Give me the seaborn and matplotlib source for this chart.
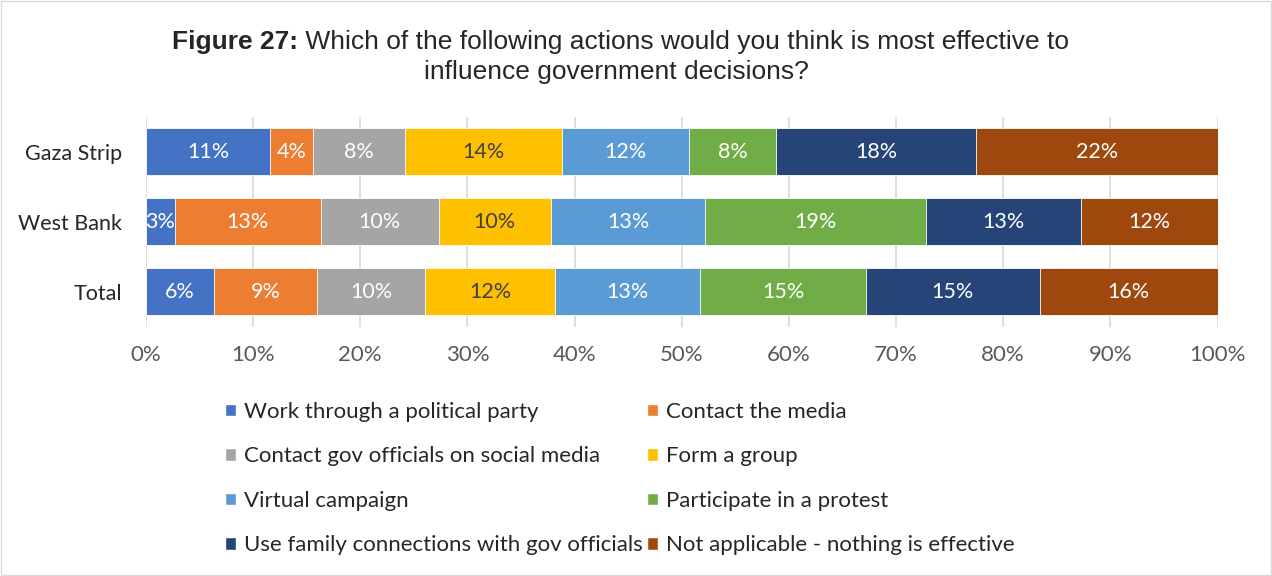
import pandas as pd
import matplotlib.pyplot as plt
import seaborn as sns
from matplotlib.patches import Patch, Rectangle

# share of respondents per action, labels as printed
regions = ["Gaza Strip", "West Bank", "Total"]
actions = ["Work through a political party", "Contact the media",
           "Contact gov officials on social media", "Form a group",
           "Virtual campaign", "Participate in a protest",
           "Use family connections with gov officials",
           "Not applicable - nothing is effective"]
gaza = [11.6, 4.0, 8.6, 14.6, 11.9, 8.1, 18.7, 22.5]
west_bank = [2.7, 13.6, 11.0, 10.5, 14.4, 20.6, 14.5, 12.7]
total = [6.3, 9.7, 10.0, 12.2, 13.5, 15.5, 16.2, 16.6]
gaza_labels = ["11%", "4%", "8%", "14%", "12%", "8%", "18%", "22%"]
west_bank_labels = ["3%", "13%", "10%", "10%", "13%", "19%", "13%", "12%"]
total_labels = ["6%", "9%", "10%", "12%", "13%", "15%", "15%", "16%"]
xticks = [0, 10, 20, 30, 40, 50, 60, 70, 80, 90, 100]

colors = ["#4472C4", "#ED7D31", "#A5A5A5", "#FFC000",
          "#5B9BD5", "#70AD47", "#264478", "#9E480E"]

rows = []
for reg, vals, labs in zip(regions, [gaza, west_bank, total],
                           [gaza_labels, west_bank_labels, total_labels]):
    cum = 0
    for act, v, lab in zip(actions, vals, labs):
        cum += v
        rows.append({"region": reg, "action": act, "value": v,
                     "cum": cum, "label": lab})
df = pd.DataFrame(rows)

sns.set_theme(style="white")
plt.rcParams['font.family'] = ['Lato', 'DejaVu Sans']

fig = plt.figure(figsize=(12.72, 5.76), dpi=100)
ax = fig.add_axes([146 / 1272, 1 - 326.5 / 576, (1217.5 - 146) / 1272, 210 / 576])

# stack by overdrawing cumulative totals, longest first
for act, col in reversed(list(zip(actions, colors))):
    sub = df[df["action"] == act]
    sns.barplot(data=sub, x="cum", y="region", order=regions, color=col,
                orient="h", width=0.67, ax=ax, edgecolor="white",
                linewidth=0.6, saturation=1)

for _, r in df.iterrows():
    tcol = "#404040" if r["action"] == "Form a group" else "white"
    ax.text(r["cum"] - r["value"] / 2, regions.index(r["region"]), r["label"],
            ha="center", va="center", color=tcol, fontsize=15.5)

ax.set_xlim(0, 100)
ax.set_ylim(2.5, -0.5)
ax.set_xticks(xticks)
ax.set_xticklabels([f"{t}%" for t in xticks])
ax.set_xlabel("")
ax.set_ylabel("")
ax.grid(axis="x", color="#D9D9D9", linewidth=1.2)
ax.set_axisbelow(True)
for s in ax.spines.values():
    s.set_visible(False)
ax.tick_params(axis="x", length=0, pad=13, labelsize=16, labelcolor="#595959")
ax.tick_params(axis="y", length=0, pad=17, labelsize=15.5, labelcolor="#262626")

# title with bold prefix
fig.canvas.draw()
rend = fig.canvas.get_renderer()
tsize = 19
t1 = fig.text(0, 0, "Figure 27:", fontsize=tsize, fontweight="bold",
              family=["Liberation Sans"])
t2 = fig.text(0, 0, " Which of the following actions would you think is most effective to",
              fontsize=tsize, family=["Liberation Sans"])
w1 = t1.get_window_extent(rend).width
w2 = t2.get_window_extent(rend).width
x0 = 620 - (w1 + w2) / 2
ty = 1 - 42 / 576
t1.set_position((x0 / 1272, ty))
t2.set_position(((x0 + w1) / 1272, ty))
t1.set_va("center")
t2.set_va("center")
fig.text(616 / 1272, 1 - 72 / 576, "influence government decisions?",
         fontsize=tsize, ha="center", va="center", family=["Liberation Sans"])

handles = [Patch(facecolor=c, label=a) for a, c in zip(actions, colors)]
order = [0, 2, 4, 6, 1, 3, 5, 7]
fig.legend([handles[i] for i in order], [actions[i] for i in order],
           ncol=2, loc="upper left", bbox_to_anchor=(205 / 1272, 1 - 382 / 576),
           frameon=False, fontsize=16, handlelength=0.5, handleheight=0.5,
           handletextpad=0.35, columnspacing=0.2, labelspacing=1.1,
           labelcolor="#262626")

fig.patches.append(Rectangle((0.001, 0.001), 0.998, 0.997, transform=fig.transFigure,
                             fill=False, edgecolor="#D9D9D9", linewidth=1))

fig.savefig("out.png", dpi=100)
